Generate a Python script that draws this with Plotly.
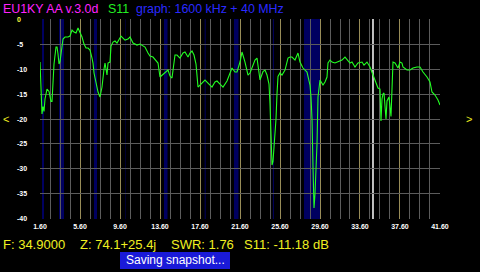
import plotly.graph_objects as go

# ---------------- data ----------------
freq_mhz = [1.6, 1.7, 1.8, 1.9, 2.0, 2.1, 2.3, 2.5, 2.7, 2.8, 2.9, 3.0, 3.2, 3.3, 3.4, 3.5, 3.6, 3.7, 3.8, 3.9,
            4.1, 4.4, 4.6, 4.8, 5.0, 5.2, 5.4, 5.6, 5.8, 6.0, 6.2, 6.4, 6.6, 6.8, 6.9, 7.0, 7.2, 7.4, 7.6, 7.8,
            8.0, 8.1, 8.3, 8.4, 8.6, 8.7, 8.9, 9.1, 9.3, 9.5, 9.7, 9.9, 10.1, 10.4, 10.6, 10.9, 11.3, 11.6, 11.8, 12.1,
            12.4, 12.6, 12.9, 13.2, 13.4, 13.6, 13.8, 14.1, 14.4, 14.6, 14.8, 15.1, 15.3, 15.6, 15.9, 16.1, 16.4, 16.6, 16.8, 17.0,
            17.2, 17.4, 17.6, 17.9, 18.1, 18.4, 18.8, 19.1, 19.3, 19.6, 19.9, 20.3, 20.6, 20.8, 21.1, 21.3, 21.6, 21.8, 22.1, 22.4,
            22.6, 22.9, 23.1, 23.3, 23.5, 23.6, 23.9, 24.1, 24.3, 24.5, 24.6, 24.7, 24.8, 24.9, 25.0, 25.2, 25.3, 25.4, 25.6, 25.8,
            26.1, 26.4, 26.6, 26.8, 27.1, 27.4, 27.6, 27.9, 28.3, 28.5, 28.6, 28.7, 28.8, 28.9, 29.0, 29.1, 29.2, 29.3, 29.4, 29.6,
            29.9, 30.1, 30.3, 30.4, 30.6, 30.8, 31.1, 31.4, 31.8, 32.1, 32.4, 32.6, 32.8, 33.1, 33.4, 33.8, 34.0, 34.3, 34.6, 34.9,
            35.1, 35.4, 35.6, 35.7, 35.8, 35.9, 36.0, 36.2, 36.3, 36.5, 36.7, 36.8, 36.9, 37.1, 37.3, 37.4, 37.6, 37.8, 37.9, 38.3,
            38.6, 38.9, 39.3, 39.6, 39.9, 40.3, 40.6, 40.8, 41.1, 41.4, 41.6]
s11_db = [-8.6, -15.0, -19.0, -17.5, -18.5, -16.0, -14.0, -14.5, -16.5, -16.5, -12.0, -9.0, -5.6, -5.6, -7.0, -9.0, -8.5, -7.0, -5.0, -4.0,
          -3.6, -3.6, -3.4, -2.2, -2.6, -2.8, -1.8, -2.6, -3.6, -5.0, -5.8, -5.8, -6.2, -7.8, -8.8, -10.8, -12.8, -14.6, -15.6, -13.6,
          -10.0, -8.8, -11.2, -8.8, -8.6, -5.4, -4.6, -4.4, -4.8, -4.0, -3.4, -3.8, -4.2, -4.0, -3.6, -4.8, -5.2, -5.0, -5.2, -5.6,
          -6.8, -7.4, -7.6, -8.4, -8.8, -11.6, -11.2, -10.8, -10.2, -11.4, -11.8, -7.2, -7.2, -7.8, -6.8, -6.6, -7.6, -6.8, -6.4, -7.2,
          -9.0, -13.6, -13.2, -12.4, -12.2, -12.8, -13.6, -12.6, -12.4, -13.0, -13.6, -12.4, -11.0, -9.8, -10.6, -10.6, -8.6, -6.6, -8.6, -11.2,
          -10.8, -9.0, -8.2, -7.8, -11.0, -12.2, -10.5, -10.2, -11.2, -13.0, -17.0, -25.0, -29.2, -28.5, -26.0, -20.0, -15.0, -11.5, -10.8, -11.2,
          -10.2, -7.8, -7.6, -7.6, -8.2, -6.8, -8.6, -9.8, -10.6, -12.0, -13.2, -15.6, -20.0, -29.6, -37.8, -35.0, -30.6, -25.0, -15.6, -12.2,
          -13.2, -12.6, -11.6, -8.8, -8.2, -8.6, -8.8, -8.6, -8.2, -7.6, -8.2, -8.8, -8.6, -9.6, -8.8, -8.6, -9.2, -8.6, -9.6, -11.18,
          -12.2, -13.8, -14.0, -20.4, -16.0, -15.0, -14.8, -20.0, -16.4, -15.6, -19.5, -12.2, -8.6, -8.8, -9.6, -9.8, -8.6, -8.8, -9.6, -10.2,
          -10.2, -9.8, -9.6, -9.6, -10.6, -11.6, -12.6, -14.6, -15.2, -16.2, -17.2]

x_tick_vals = [1.6, 5.6, 9.6, 13.6, 17.6, 21.6, 25.6, 29.6, 33.6, 37.6, 41.6]
x_tick_text = ["1.60", "5.60", "9.60", "13.60", "17.60", "21.60", "25.60", "29.60", "33.60", "37.60", "41.60"]
y_tick_vals = [0, -5, -10, -15, -20, -25, -30, -35, -40]
y_tick_text = ["0", "-5", "-10", "-15", "-20", "-25", "-30", "-35", "-40"]

# amateur band segments (MHz)
band_start = [1.8, 3.5, 7.0, 10.1, 14.0, 18.068, 21.0, 24.89, 28.0]
band_end = [2.0, 4.0, 7.3, 10.15, 14.35, 18.168, 21.45, 24.99, 29.7]

marker_freq = 34.9

header_parts = ["EU1KY AA v.3.0d", "S11", "graph: 1600 kHz + 40 MHz"]
footer_parts = ["F: 34.9000", "Z: 74.1+25.4j", "SWR: 1.76", "S11: -11.18 dB"]
status_text = "Saving snapshot..."

# ---------------- figure ----------------
W, H = 480, 272
L, R, T, B = 40, 40, 19, 53
PW, PH = W - L - R, H - T - B


def px(xp):
    return (xp - L) / PW


def py(yp):
    return (H - B - yp) / PH


fig = go.Figure()
fig.add_trace(go.Scatter(x=freq_mhz, y=s11_db, mode="lines",
                         line=dict(color="#22ff22", width=1.1), hoverinfo="skip"))

grid_gray = "#5c5c5c"
olive = "#988c58"
tick_font = dict(family="Liberation Sans", size=7, color="#ffffff", weight="bold")

fig.update_xaxes(range=[1.6 - 0.001, 41.6 + 0.001], tickmode="array", tickvals=x_tick_vals,
                 ticktext=x_tick_text, showgrid=True, gridcolor=olive, gridwidth=1,
                 zeroline=False, showline=False, ticks="", tickfont=tick_font,
                 ticklabelstandoff=2,
                 minor=dict(tickmode="linear", tick0=1.6, dtick=1, showgrid=True,
                            gridcolor=grid_gray, gridwidth=1, ticks=""))
fig.update_yaxes(range=[-40 - 0.01, 0 + 0.01], tickmode="array", tickvals=y_tick_vals,
                 showgrid=True, gridcolor=grid_gray, gridwidth=1, zeroline=False,
                 showline=False, ticks="", showticklabels=False)

shapes = []
for b0, b1 in zip(band_start, band_end):
    shapes.append(dict(type="rect", xref="x", yref="paper", x0=b0, x1=b1, y0=0, y1=1,
                       fillcolor="#000060", line=dict(width=0), layer="below"))
shapes.append(dict(type="line", xref="x", yref="paper", x0=marker_freq, x1=marker_freq,
                   y0=0, y1=1, line=dict(color="#ffffff", width=1.5), layer="between"))
# status box
shapes.append(dict(type="rect", xref="paper", yref="paper", x0=px(120), x1=px(230),
                   y0=py(269), y1=py(252), fillcolor="#1a1ad8", line=dict(width=0)))

annotations = []
for v, t in zip(y_tick_vals, y_tick_text):
    annotations.append(dict(x=px(15), y=v, xref="paper", yref="y", text=t, showarrow=False,
                            xanchor="left", yanchor="middle",
                            font=dict(family="Liberation Sans", size=7, weight="bold",
                                      color="#ffff40" if v == 0 else "#ffffff")))

hdr_font = "Liberation Sans"
for text, xp, col in zip(header_parts, [1, 106, 134], ["#ff22ff", "#22ee22", "#2a2aff"]):
    annotations.append(dict(x=px(xp), y=py(8.5), xref="paper", yref="paper", text=text,
                            showarrow=False, xanchor="left", yanchor="middle",
                            font=dict(family=hdr_font, size=12.4, color=col)))
for text, xp in zip(footer_parts, [1, 78, 169, 242]):
    annotations.append(dict(x=px(xp), y=py(244), xref="paper", yref="paper", text=text,
                            showarrow=False, xanchor="left", yanchor="middle",
                            font=dict(family=hdr_font, size=13, color="#f0f020")))
annotations.append(dict(x=px(175.5), y=py(259.5), xref="paper", yref="paper", text=status_text,
                        showarrow=False, xanchor="center", yanchor="middle",
                        font=dict(family=hdr_font, size=12, color="#ffffff")))
annotations.append(dict(x=px(5.5), y=py(118.5), xref="paper", yref="paper", text="&lt;",
                        showarrow=False, xanchor="center", yanchor="middle",
                        font=dict(family=hdr_font, size=11, color="#f0f020")))
annotations.append(dict(x=px(469), y=py(118.5), xref="paper", yref="paper", text="&gt;",
                        showarrow=False, xanchor="center", yanchor="middle",
                        font=dict(family=hdr_font, size=11, color="#f0f020")))

fig.update_layout(width=W, height=H, margin=dict(l=L, r=R, t=T, b=B, pad=0),
                  paper_bgcolor="#000000", plot_bgcolor="#000000", showlegend=False,
                  shapes=shapes, annotations=annotations)

fig.write_html("out.html", config={"displayModeBar": False})
